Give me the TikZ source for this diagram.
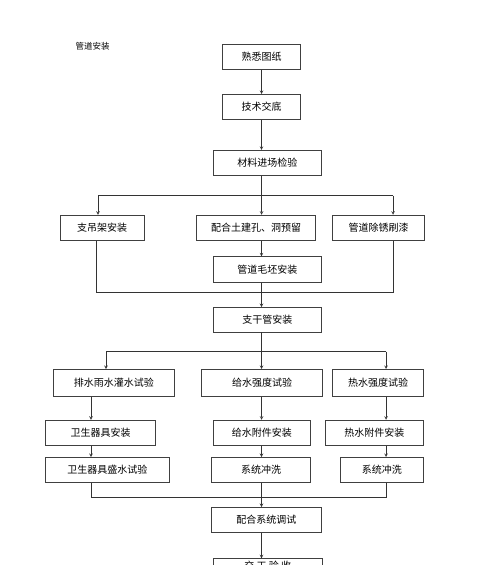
\documentclass[tikz,border=0pt]{standalone}
\usepackage{fontspec}
\setmainfont{Noto Sans CJK SC}
\usetikzlibrary{arrows}

\tikzset{
  stepbox/.style={draw=black!75, line width=0.6pt, minimum height=25.5pt, inner sep=0pt, font=\fontsize{10}{12}\selectfont},
  link/.style={draw=black!80, line width=0.6pt}
}

\begin{document}
\begin{tikzpicture}[x=1pt,y=-1pt,>=stealth]

\clip (0,0) rectangle (500,565);
\fill[white] (0,0) rectangle (500,565);

\node[font=\fontsize{8.5}{10}\selectfont] (title) at (92.5,46) {管道安装};

% top column
\node[stepbox, minimum width=77.6pt] (shuxi) at (261.5,57) {熟悉图纸};
\node[stepbox, minimum width=77.6pt, minimum height=25pt] (jishu) at (261.5,106.8) {技术交底};
\node[stepbox, minimum width=108pt] (cailiao) at (267.3,163) {材料进场检验};

\node[stepbox, minimum width=83.7pt] (zhidiao) at (102.2,227.8) {支吊架安装};
\node[stepbox, minimum width=119pt] (peihe) at (256.2,227.8) {配合土建孔、洞预留};
\node[stepbox, minimum width=91.6pt] (chuxiu) at (378.5,227.8) {管道除锈刷漆};
\node[stepbox, minimum width=108pt] (maopi) at (267.3,269.5) {管道毛坯安装};
\node[stepbox, minimum width=108pt, minimum height=24.7pt] (zhigan) at (267.3,319.7) {支干管安装};

% three branches
\node[stepbox, minimum width=121pt, minimum height=27.4pt] (paishui) at (113.8,383) {排水雨水灌水试验};
\node[stepbox, minimum width=120.6pt, minimum height=27.4pt] (jishui) at (262,383) {给水强度试验};
\node[stepbox, minimum width=90.6pt, minimum height=27.4pt] (reshui) at (378,383) {热水强度试验};

\node[stepbox, minimum width=110.4pt, minimum height=25.3pt] (weisheng) at (100.5,432.7) {卫生器具安装};
\node[stepbox, minimum width=97pt, minimum height=25.3pt] (jishuifj) at (261.8,432.7) {给水附件安装};
\node[stepbox, minimum width=98pt, minimum height=25.3pt] (reshuifj) at (374.3,432.7) {热水附件安装};

\node[stepbox, minimum width=124pt, minimum height=25pt] (shengshui) at (107.3,469.8) {卫生器具盛水试验};
\node[stepbox, minimum width=98.6pt, minimum height=25pt] (chongxiA) at (261,469.8) {系统冲洗};
\node[stepbox, minimum width=83pt, minimum height=25pt] (chongxiB) at (381.8,469.8) {系统冲洗};

\node[stepbox, minimum width=110pt, minimum height=25.4pt] (tiaoshi) at (266.3,520) {配合系统调试};
\node[stepbox, minimum width=109pt, minimum height=0pt, inner ysep=2.5pt, anchor=north] (jiaogong) at (267.8,558.3) {交 工 验 收};

% fork and merge points
\coordinate (f1l) at (98,195.7);
\coordinate (f1) at (261.5,195.7);
\coordinate (f1r) at (393,195.7);
\coordinate (m1l) at (96,292.7);
\coordinate (m1) at (261.5,292.7);
\coordinate (m1r) at (393,292.7);
\coordinate (f2l) at (106,351.7);
\coordinate (f2) at (261.5,351.7);
\coordinate (f2r) at (386,351.7);
\coordinate (m2l) at (91,497);
\coordinate (m2) at (261.5,497);
\coordinate (m2r) at (386,497);

\draw[link,->] (shuxi.south) -- (jishu.north);
\draw[link,->] (jishu.south) -- (cailiao.north -| jishu);
\draw[link] (cailiao.south -| f1) -- (f1);
\draw[link] (f1l) -- (f1r);
\draw[link,->] (f1l) -- (zhidiao.north -| f1l);
\draw[link,->] (f1) -- (peihe.north -| f1);
\draw[link,->] (f1r) -- (chuxiu.north -| f1r);

\draw[link,->] (peihe.south -| m1) -- (maopi.north -| m1);
\draw[link] (zhidiao.south -| m1l) -- (m1l) -- (m1r) -- (chuxiu.south -| m1r);
\draw[link,->] (maopi.south -| m1) -- (zhigan.north -| m1);

\draw[link] (zhigan.south -| f2) -- (f2);
\draw[link] (f2l) -- (f2r);
\draw[link,->] (f2l) -- (paishui.north -| f2l);
\draw[link,->] (f2) -- (jishui.north -| f2);
\draw[link,->] (f2r) -- (reshui.north -| f2r);

\draw[link,->] (paishui.south -| m2l) -- (weisheng.north -| m2l);
\draw[link,->] (jishui.south -| m2) -- (jishuifj.north -| m2);
\draw[link,->] (reshui.south -| m2r) -- (reshuifj.north -| m2r);

\draw[link,->] (weisheng.south -| m2l) -- (shengshui.north -| m2l);
\draw[link,->] (jishuifj.south -| m2) -- (chongxiA.north -| m2);
\draw[link,->] (reshuifj.south -| m2r) -- (chongxiB.north -| m2r);

\draw[link] (shengshui.south -| m2l) -- (m2l) -- (m2r) -- (chongxiB.south -| m2r);
\draw[link,->] (chongxiA.south -| m2) -- (tiaoshi.north -| m2);
\draw[link,->] (tiaoshi.south -| m2) -- (jiaogong.north -| m2);

\end{tikzpicture}
\end{document}
